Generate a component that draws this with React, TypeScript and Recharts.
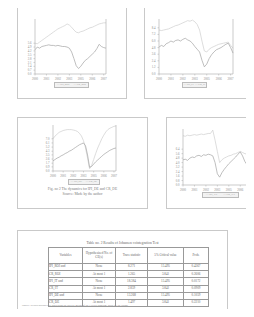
import React from 'react';
import { LineChart, Line, XAxis, YAxis } from 'recharts';

const FONT = '"Liberation Serif", "DejaVu Serif", serif';
const TXT = '#8c8c8c';
const AX = '#a8a8a8';

const periods = [
  '2000Q1','2000Q2','2000Q3','2000Q4','2001Q1','2001Q2','2001Q3','2001Q4',
  '2002Q1','2002Q2','2002Q3','2002Q4','2003Q1','2003Q2','2003Q3','2003Q4',
  '2004Q1','2004Q2','2004Q3','2004Q4','2005Q1','2005Q2','2005Q3','2005Q4',
  '2006Q1','2006Q2','2006Q3','2006Q4','2007Q1','2007Q2','2007Q3','2007Q4',
];

// Chart 1 (IPI_ROI / CR_ROI)
const c1Upper = [56,55,58,61,64,67,70,73,76,79,82,84,86,88,91,89,85,80,76,75,77,78,80,82,84,85,87,89,91,92,93,93];
const c1Lower = [44,49,47,50,51,52,53,52,52,51,52,51,50,50,49,47,40,28,15,10,14,20,25,28,32,36,40,46,54,50,48,47];
const c1LeftTicks = [0,7,14,21,28,35,42,49,56];
const c1RightTicks = [45,56,67,78,89,100];

// Chart 2 (IPI_IT / CR_IT)
const c2Upper = [80,79,80,81,82,84,86,88,89,91,93,95,97,96,98,95,90,80,60,42,40,45,48,50,52,54,55,56,57,58,52,47];
const c2Lower = [49,52,50,55,57,60,58,61,62,60,63,65,62,60,56,50,45,40,25,13,18,28,35,40,44,46,48,51,54,56,48,38];
const c2LeftTicks = [0,12,24,36,48,60,72,84];
const c2RightTicks = [20,40,60,80,100];

// Chart 3 (IPI_DE / CR_DE)
const c3Upper = [70,76,80,84,86,88,89,90,90,90,89,88,86,82,76,66,50,28,5,12,25,38,50,60,70,78,85,90,93,95,97,98];
const c3Lower = [22,25,28,30,33,35,38,40,43,45,48,51,54,57,59,61,55,35,8,10,15,20,24,28,32,36,39,42,45,47,49,50];
const c3LeftTicks = [0,9,17,26,35,43,52,61,70];
const c3RightTicks = [26,47,68,89];

// Chart 4
const c4Upper = [88,87,89,88,89,90,89,90,91,90,91,92,92,98,80,60,40,45,48,50,52,53,55,56,58,60,58,56,55,54,53,52];
const c4Lower = [45,46,44,48,50,49,52,53,51,54,53,55,54,52,40,20,14,22,28,33,38,42,46,50,55,59,52,42,36,34,33,32];
const c4LeftTicks = [0,8,16,24,32,40,48,56,64];

const legendLabels = [
  ['IPI_ROI', 'CR_ROI'],
  ['IPI_IT', 'CR_IT'],
  ['IPI_DE', 'CR_DE'],
  ['IPI_XX', 'CR_XX'],
];

const tableHeader = ['Variables', 'Hypothesized No. of CE(s)', 'Trace statistic', '5% Critical value', 'Prob.'];
const tableVars = ['IPI_ROI and', 'CR_ROI', 'IPI_IT and', 'CR_IT', 'IPI_DE and', 'CR_DE'];
const tableHyp = ['None', 'At most 1', 'None', 'At most 1', 'None', 'At most 1'];
const tableTrace = ['8.271', '1.265', '18.384', '2.859', '13.268', '1.497'];
const tableCrit = ['15.495', '3.841', '15.495', '3.841', '15.495', '3.841'];
const tableProb = ['0.4367', '0.2606', '0.0172', '0.0909', '0.1059', '0.2210'];

const tick = { fontSize: 3, fill: TXT, fontFamily: FONT };

type MiniProps = {
  upper: number[];
  lower: number[];
  leftTicks: number[];
  rightTicks?: number[];
  x: number; y: number; w: number; h: number;
  margin: { top: number; right: number; bottom: number; left: number };
  yl: number; yr: number;
};

function Mini(p: MiniProps) {
  const data = periods.map((per, i) => ({ per, u: p.upper[i], l: p.lower[i] }));
  return (
    <div style={{ position: 'absolute', left: p.x, top: p.y }}>
      <LineChart width={p.w} height={p.h} data={data} margin={p.margin}>
        <XAxis dataKey="per" interval={4} height={6} tick={tick} tickSize={1.5}
          tickLine={{ stroke: AX, strokeWidth: 0.5 }} axisLine={{ stroke: AX, strokeWidth: 0.6 }}
          tickFormatter={(v: string) => v.slice(0, 4)} />
        <XAxis xAxisId="top" dataKey="per" orientation="top" height={0} tick={false} tickLine={false}
          axisLine={{ stroke: AX, strokeWidth: 0.6 }} />
        <YAxis yAxisId="l" domain={[0, 100]} ticks={p.leftTicks} interval={0} width={p.yl} tick={tick} tickSize={1.5}
          tickLine={{ stroke: AX, strokeWidth: 0.5 }} axisLine={{ stroke: AX, strokeWidth: 0.6 }}
          tickFormatter={(v: number) => (v / 10).toFixed(1)} />
        {p.rightTicks ? (
          <YAxis yAxisId="r" orientation="right" domain={[0, 100]} ticks={p.rightTicks} interval={0} width={p.yr} tick={tick}
            tickSize={1.5} tickLine={{ stroke: AX, strokeWidth: 0.5 }} axisLine={{ stroke: AX, strokeWidth: 0.6 }}
            tickFormatter={(v: number) => String(v * 2)} />
        ) : null}
        <Line yAxisId="l" dataKey="u" stroke="#cfcfcf" strokeWidth={0.7} dot={false} isAnimationActive={false} />
        <Line yAxisId="l" dataKey="l" stroke="#a4a4a4" strokeWidth={0.7} dot={false} isAnimationActive={false} />
      </LineChart>
    </div>
  );
}

function LegendBox({ x, y, w, labels }: { x: number; y: number; w: number; labels: string[] }) {
  return (
    <div style={{ position: 'absolute', left: x, top: y, width: w, height: 4, border: '0.6px solid #bbb',
      background: '#f2f2f2', fontSize: 2.6, lineHeight: '4px', color: TXT, fontFamily: FONT, display: 'flex',
      justifyContent: 'space-around', alignItems: 'center', whiteSpace: 'nowrap', overflow: 'hidden' }}>
      <span>— {labels[0]}</span><span>— {labels[1]}</span>
    </div>
  );
}

const boxStyle = (x: number, y: number, w: number, h: number): React.CSSProperties => ({
  position: 'absolute', left: x, top: y, width: w, height: h, border: '1px solid #c9c9c9', boxSizing: 'border-box',
});

const cell: React.CSSProperties = { border: '0.6px solid #999', padding: 0, textAlign: 'center', height: 6.2 };

export default function App() {
  return (
    <div style={{ position: 'relative', width: 254, height: 317, margin: -8, overflow: 'hidden', background: '#fff', fontFamily: FONT }}>
      <div style={boxStyle(17, 6, 110, 93)} />
      <div style={boxStyle(144, 6, 108, 93)} />
      <div style={boxStyle(17, 117, 131, 92)} />
      <div style={boxStyle(166, 117, 120, 92)} />
      <div style={boxStyle(17, 230, 211, 120)} />

      <Mini upper={c1Upper} lower={c1Lower} leftTicks={c1LeftTicks} rightTicks={c1RightTicks}
        x={17} y={6} w={109} h={92} margin={{ top: 13, left: 4, right: 8, bottom: 18 }} yl={14} yr={12} />
      <LegendBox x={54} y={82} w={33} labels={legendLabels[0]} />

      <Mini upper={c2Upper} lower={c2Lower} leftTicks={c2LeftTicks} rightTicks={c2RightTicks}
        x={144} y={6} w={107} h={92} margin={{ top: 13, left: 3, right: 6, bottom: 18 }} yl={12} yr={12} />
      <LegendBox x={182} y={82} w={23} labels={legendLabels[1]} />

      <Mini upper={c3Upper} lower={c3Lower} leftTicks={c3LeftTicks} rightTicks={c3RightTicks}
        x={17} y={117} w={130} h={91} margin={{ top: 8, left: 24, right: 19, bottom: 31 }} yl={12} yr={12} />
      <LegendBox x={68} y={179} w={30} labels={legendLabels[2]} />
      <div style={{ position: 'absolute', left: 17, top: 187, width: 131, textAlign: 'center', fontSize: 3.6,
        lineHeight: '5px', color: '#7a7a7a', fontFamily: FONT }}>
        Fig. no 2 The dynamics for IPI_DE and CR_DE<br />Source: Made by the author
      </div>

      <Mini upper={c4Upper} lower={c4Lower} leftTicks={c4LeftTicks}
        x={166} y={117} w={88} h={91} margin={{ top: 12, left: 5, right: 0, bottom: 17 }} yl={12} yr={0} />
      <LegendBox x={202} y={192} w={35} labels={legendLabels[3]} />

      <div style={{ position: 'absolute', left: 17, top: 241, width: 211, textAlign: 'center', fontSize: 3.6,
        lineHeight: '5px', color: '#666', fontFamily: FONT }}>
        Table no. 2 Results of Johansen cointegration Test
      </div>
      <table style={{ position: 'absolute', left: 48, top: 247, width: 160, borderCollapse: 'collapse', fontSize: 3.2,
        lineHeight: '3.4px', color: '#666', fontFamily: FONT, tableLayout: 'fixed' }}>
        <colgroup>
          <col style={{ width: 34 }} /><col style={{ width: 33 }} /><col style={{ width: 32 }} />
          <col style={{ width: 36 }} /><col style={{ width: 25 }} />
        </colgroup>
        <thead>
          <tr>
            {tableHeader.map((h) => (
              <td key={h} style={{ ...cell, height: 15 }}>{h}</td>
            ))}
          </tr>
        </thead>
        <tbody>
          {tableVars.map((v, i) => (
            <tr key={i}>
              <td style={{ ...cell, textAlign: 'left' }}>{v}</td>
              <td style={cell}>{tableHyp[i]}</td>
              <td style={cell}>{tableTrace[i]}</td>
              <td style={cell}>{tableCrit[i]}</td>
              <td style={cell}>{tableProb[i]}</td>
            </tr>
          ))}
        </tbody>
      </table>
      <div style={{ position: 'absolute', left: 22, top: 304, width: 200, fontSize: 2.6, lineHeight: '4px',
        color: '#8a8a8a', fontFamily: FONT, whiteSpace: 'nowrap' }}>
        Source: Results obtained by processing the data by means of the Eviews program. Made by the author
      </div>
    </div>
  );
}
